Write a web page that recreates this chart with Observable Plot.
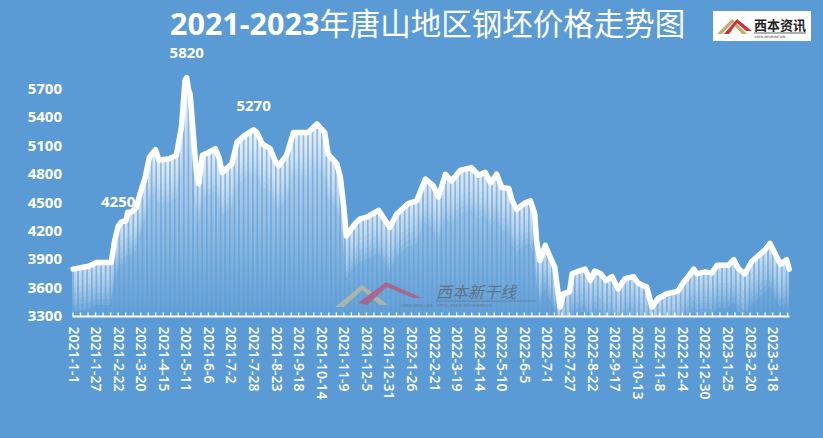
<!DOCTYPE html>
<html>
<head>
<meta charset="utf-8">
<script src="https://cdn.jsdelivr.net/npm/d3@7"></script>
<script src="https://cdn.jsdelivr.net/npm/@observablehq/plot@0.6"></script>
<style>
  html, body { margin: 0; padding: 0; background: #5B9BD5; }
  #wrap { position: relative; width: 823px; height: 438px; background: #5B9BD5; overflow: hidden; }
  #chart { position: absolute; left: 0; top: 0; }
  #title { position: absolute; left: 170px; top: 6px; color: #fff; font-size: 30.5px; white-space: nowrap;
           font-family: "Open Sans", "Noto Sans CJK SC", sans-serif; line-height: 32px; height: 32px; }
  #title .num { font-weight: 700; }
  #title .cjk { font-family: "Noto Sans CJK SC", sans-serif; font-weight: 400; }
  #logo { position: absolute; left: 713px; top: 11px; }
  #wm { position: absolute; left: 330px; top: 278px; pointer-events: none; }
  g[aria-label="xlab"] text { letter-spacing: 2.4px; }
</style>
</head>
<body>
<div id="wrap">
  <div id="chart"></div>
  <div id="title"><span class="num">2021-2023</span><span class="cjk">年唐山地区钢坯价格走势图</span></div>
  <svg id="logo" width="98" height="30" viewBox="0 0 98 30">
    <rect x="0" y="0" width="98" height="30" fill="#fff"/>
    <polygon points="4,23 19,8 34,23 29,23 19,12 9,23" fill="#c9a86a"/>
    <polygon points="11,23 24,8 39,20 33,20 24,12 16,23" fill="#d0303a"/>
    <text x="41" y="19" font-family="Noto Sans CJK SC" font-weight="700" font-size="13" fill="#222">西本资讯</text>
    <line x1="41" y1="22" x2="93" y2="22" stroke="#333" stroke-width="0.8"/>
    <text x="41" y="27" font-family="DejaVu Sans" font-size="3" fill="#333">XIBEN INFORMATION</text>
  </svg>
  <svg id="wm" width="215" height="32" viewBox="0 0 215 32" opacity="0.6">
    <polygon points="5,29 32,7 58,27 50,27 32,12 14,29" fill="#d8c38a"/>
    <polygon points="28,25 56,4 92,20 83,20 57,9 37,27" fill="#d2405a"/>
    <text x="106" y="20" font-family="Noto Sans CJK SC" font-size="16" fill="#555" font-style="italic">西本新干线</text>
    <line x1="106" y1="23" x2="206" y2="23" stroke="#666" stroke-width="0.8"/>
    <text x="70" y="29" font-family="DejaVu Sans" font-size="4" fill="#666">XIBEN NEW LINE · STEEL PRICE INFORMATION</text>
  </svg>
</div>
<script>
// ---- data ----
const dates = [
  "2021-01-01","2021-01-19","2021-01-28","2021-02-14","2021-02-18","2021-02-22","2021-02-26","2021-03-03",
  "2021-03-05","2021-03-09","2021-03-15","2021-03-19","2021-03-25","2021-03-30","2021-04-06","2021-04-10",
  "2021-04-21","2021-04-30","2021-05-06","2021-05-10","2021-05-12","2021-05-14","2021-05-16","2021-05-19",
  "2021-05-23","2021-05-26","2021-05-30","2021-06-06","2021-06-14","2021-06-18","2021-06-22","2021-06-28",
  "2021-07-03","2021-07-09","2021-07-18","2021-07-28","2021-08-01","2021-08-07","2021-08-16","2021-08-22",
  "2021-08-26","2021-09-04","2021-09-12","2021-09-20","2021-09-29","2021-10-09","2021-10-18","2021-10-22",
  "2021-11-01","2021-11-05","2021-11-09","2021-11-12","2021-11-22","2021-11-28","2021-12-06","2021-12-19",
  "2022-01-01","2022-01-09","2022-01-22","2022-02-01","2022-02-11","2022-02-20","2022-02-26","2022-03-06",
  "2022-03-13","2022-03-23","2022-04-05","2022-04-13","2022-04-21","2022-04-27","2022-05-04","2022-05-10",
  "2022-05-18","2022-05-22","2022-05-27","2022-06-06","2022-06-12","2022-06-17","2022-06-19","2022-06-23",
  "2022-06-29","2022-07-05","2022-07-10","2022-07-14","2022-07-16","2022-07-20","2022-07-27","2022-07-30",
  "2022-08-04","2022-08-14","2022-08-20","2022-08-25","2022-09-01","2022-09-07","2022-09-14","2022-09-21",
  "2022-09-29","2022-10-09","2022-10-14","2022-10-24","2022-10-30","2022-11-06","2022-11-16","2022-11-26",
  "2022-11-29","2022-12-06","2022-12-09","2022-12-17","2022-12-21","2022-12-30","2023-01-07","2023-01-13",
  "2023-01-26","2023-02-01","2023-02-07","2023-02-14","2023-02-22","2023-03-04","2023-03-09","2023-03-15",
  "2023-03-21","2023-03-27","2023-04-03","2023-04-06"
];
const prices = [
  3800,3830,3870,3870,4100,4250,4300,4310,
  4400,4400,4450,4590,4760,4980,5060,4950,
  4960,5000,5300,5790,5820,5700,5640,5300,
  4840,4700,5000,5030,5070,4980,4820,4870,
  4910,5140,5210,5270,5240,5120,5070,4940,
  4890,5000,5240,5240,5240,5330,5240,5010,
  4910,4770,4450,4150,4280,4330,4350,4420,
  4240,4380,4490,4520,4750,4680,4560,4800,
  4730,4840,4870,4790,4820,4710,4800,4660,
  4650,4520,4430,4500,4520,4380,4100,3890,
  4050,3920,3820,3540,3400,3540,3560,3750,
  3770,3800,3680,3780,3750,3680,3720,3590,
  3700,3720,3650,3610,3400,3490,3540,3560,
  3570,3670,3700,3800,3750,3770,3760,3840,
  3840,3900,3800,3750,3880,3960,4000,4070,
  3960,3850,3900,3800
];
const labelDates = ["2021-02-22", "2021-05-12", "2021-07-28"];
const xLabels = [
  "2021-1-1","2021-1-27","2021-2-22","2021-3-20","2021-4-15","2021-5-11","2021-6-6","2021-7-2",
  "2021-7-28","2021-8-23","2021-9-18","2021-10-14","2021-11-9","2021-12-5","2021-12-31","2022-1-26",
  "2022-2-21","2022-3-19","2022-4-14","2022-5-10","2022-6-5","2022-7-1","2022-7-27","2022-8-22",
  "2022-9-17","2022-10-13","2022-11-8","2022-12-4","2022-12-30","2023-1-25","2023-2-20","2023-3-18"
];
const yTicks = [3300, 3600, 3900, 4200, 4500, 4800, 5100, 5400, 5700];

// ---- build ----
const parseYMD = s => { const [Y, M, D] = s.split("-").map(Number); return new Date(Date.UTC(Y, M - 1, D)); };
const data = dates.map((d, i) => ({date: parseYMD(d), value: prices[i]}));
const labelled = data.filter(d => labelDates.includes(d.date.toISOString().slice(0, 10)));
const xLab = xLabels.map(s => ({date: parseYMD(s), text: s}));
const x0 = parseYMD("2021-01-01"), x1 = parseYMD("2023-04-07");
const DAY = 864e5;
const minor = d3.range(x0.getTime(), x1.getTime() + 1, 26 / 3 * DAY).map(t => new Date(t));

const FONT = "'Open Sans', 'Noto Sans', sans-serif";
const bands = [];
const NB = 7, STEP = 65;
for (let i = 1; i <= NB; i++) {
  bands.push(Plot.areaY(data, {
    x: "date", y1: d => Math.max(3300, d.value - i * STEP), y2: "value",
    fill: "white", fillOpacity: 0.12
  }));
}

const chart = Plot.plot({
  width: 823, height: 438,
  marginLeft: 72.5, marginRight: 33.5, marginTop: 60, marginBottom: 122,
  style: {background: "transparent", color: "white", fontFamily: FONT, overflow: "visible"},
  x: {type: "utc", domain: [x0, x1], axis: null},
  y: {domain: [3300, 6000], axis: null},
  marks: [
    Plot.areaY(data, {x: "date", y1: 3300, y2: "value", fill: "url(#gradFill)"}),
    ...bands,
    Plot.areaY(data, {x: "date", y1: 3300, y2: "value", fill: "url(#stripes)"}),
    Plot.ruleY([3300], {stroke: "white", strokeWidth: 2}),
    Plot.ruleX(minor, {x: d => d, y1: 3300, y2: 3338, stroke: "white", strokeWidth: 1.3}),
    Plot.line(data, {x: "date", y: "value", stroke: "white", strokeWidth: 5.5,
                     strokeLinejoin: "round", strokeLinecap: "round"}),
    Plot.text(labelled, {x: "date", y: "value", text: d => String(d.value), dy: -24,
                         fill: "white", fontSize: 15, fontWeight: "bold", lineAnchor: "middle"}),
    Plot.text(yTicks, {y: d => d, frameAnchor: "left", dx: -11, text: d => String(d),
                       textAnchor: "end", lineAnchor: "middle", fill: "white", fontSize: 15, fontWeight: "bold"}),
    Plot.text(xLab, {x: "date", y: 3300, dy: 10, text: "text", rotate: 90, textAnchor: "start",
                     lineAnchor: "middle", fill: "white", fontSize: 14, fontWeight: 600, ariaLabel: "xlab"})
  ]
});

const svg = d3.select(chart);
const defs = svg.insert("defs", ":first-child");
const g = defs.append("linearGradient").attr("id", "gradFill")
  .attr("gradientUnits", "userSpaceOnUse").attr("x1", 0).attr("y1", 70).attr("x2", 0).attr("y2", 316);
g.append("stop").attr("offset", 0).attr("stop-color", "#fff").attr("stop-opacity", 0.88);
g.append("stop").attr("offset", 1).attr("stop-color", "#fff").attr("stop-opacity", 0.04);
const p = defs.append("pattern").attr("id", "stripes").attr("patternUnits", "userSpaceOnUse")
  .attr("x", 72.5).attr("y", 0).attr("width", 4.6).attr("height", 20);
p.append("rect").attr("x", 0).attr("y", 0).attr("width", 1.8).attr("height", 20)
  .attr("fill", "#5B9BD5").attr("fill-opacity", 0.6);

document.getElementById("chart").appendChild(chart);
</script>
</body>
</html>
